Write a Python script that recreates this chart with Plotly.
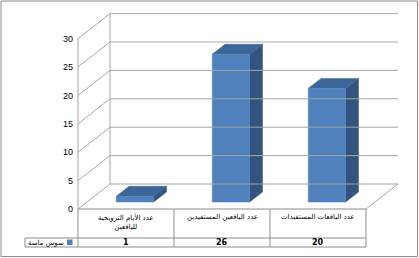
import plotly.graph_objects as go

# ---- data ----
categories = ["عدد الأيام الترويحية<br>لليافعين", "عدد اليافعين المستفيدين", "عدد اليافعات المستفيدات"]
series_name = "سوس ماسة"
values = [1, 26, 20]
y_ticks = [0, 5, 10, 15, 20, 25, 30]

# ---- geometry (pixel mapping helpers) ----
W, H = 419, 258
PX_X = 96.0          # px per category
PX_Y = 5.68          # px per unit
X0PIX, Y0PIX = 78, 209
def xd(p):  # pixel -> x data
    return -0.5 + (p - X0PIX) / PX_X
def yd(p):  # pixel -> y data
    return (Y0PIX - p) / PX_Y

DX = 32 / PX_X       # full depth in x data units
DY = 25 / PX_Y       # full depth in y data units
d0, bd, bw = 0.28, 0.40, 0.39

C_FRONT, C_TOP, C_SIDE = "#4F81BD", "#3D6698", "#32547E"
GRID = "#A6A6A6"
TBL = "#8C8C8C"

fig = go.Figure()

def poly(xs, ys, color):
    fig.add_trace(go.Scatter(x=xs + [xs[0]], y=ys + [ys[0]], mode="lines", fill="toself",
                             fillcolor=color, line=dict(color=color, width=0.5),
                             showlegend=False, hoverinfo="skip"))

# walls / floor lines
shapes = []
def line(x0, y0, x1, y1, color=GRID, w=1):
    shapes.append(dict(type="line", xref="x", yref="y", x0=x0, y0=y0, x1=x1, y1=y1,
                       line=dict(color=color, width=w)))

n = len(categories)
xl, xr = -0.5, n - 0.5
for t in y_ticks:
    line(xl, t, xl + DX, t + DY)                # side wall diagonals
    line(xl + DX, t + DY, xr + DX, t + DY)      # back wall gridlines
line(xl, 0, xl, y_ticks[-1])                    # front axis line
line(xl + DX, DY, xl + DX, y_ticks[-1] + DY)    # back corner line
line(xr, 0, xr + DX, DY)                        # floor right diagonal

# bars (3D faces)
for i, v in enumerate(values):
    x0 = i - bw / 2 + d0 * DX
    x1 = x0 + bw
    y0 = d0 * DY
    y1 = v + d0 * DY
    ox, oy = bd * DX, bd * DY
    poly([x1, x1, x1 + ox, x1 + ox], [y0, y1, y1 + oy, y0 + oy], C_SIDE)
    poly([x0, x1, x1 + ox, x0 + ox], [y1, y1, y1 + oy, y1 + oy], C_TOP)
    poly([x0, x1, x1, x0], [y0, y0, y1, y1], C_FRONT)

# data table
y_row = yd(238)
y_bot = yd(247)
x_leg = xd(25)
line(xl, 0, xr, 0, TBL)
for k in range(n + 1):
    line(xl + k, 0, xl + k, y_bot, TBL)
line(x_leg, y_row, xr, y_row, TBL)
line(x_leg, y_bot, xr, y_bot, TBL)
line(x_leg, y_row, x_leg, y_bot, TBL)

annotations = []
for i, (c, v) in enumerate(zip(categories, values)):
    annotations.append(dict(x=i, y=yd(211), xref="x", yref="y", text=c, showarrow=False,
                            yanchor="top",
                            font=dict(size=7, color="#000", family="DejaVu Sans")))
    annotations.append(dict(x=i, y=(y_row + y_bot) / 2, xref="x", yref="y", text="<b>%d</b>" % v,
                            showarrow=False, font=dict(size=8, color="#000", family="DejaVu Sans")))
annotations.append(dict(x=xd(65.5), y=(y_row + y_bot) / 2, xref="x", yref="y", text=series_name,
                        xanchor="right", showarrow=False,
                        font=dict(size=7, color="#000", family="DejaVu Sans")))
shapes.append(dict(type="rect", xref="x", yref="y", x0=xd(67), x1=xd(72.5),
                   y0=yd(245), y1=yd(239.5), fillcolor=C_FRONT, line=dict(width=0)))

# outer border
shapes.append(dict(type="rect", xref="paper", yref="paper", x0=1 / W, x1=417.5 / W,
                   y0=1.5 / H, y1=1 - 1 / H, line=dict(color="#8C8C8C", width=1)))

fig.update_layout(
    width=W, height=H, margin=dict(l=0, r=0, t=0, b=0),
    paper_bgcolor="white", plot_bgcolor="white",
    xaxis=dict(range=[xd(0), xd(W)], visible=False, fixedrange=True),
    yaxis=dict(range=[yd(H), yd(0)], anchor="free", position=X0PIX / W, side="left",
               tickvals=y_ticks, ticks="", showgrid=False, zeroline=False, showline=False,
               ticklabelstandoff=5, tickfont=dict(size=9, color="#000", family="Liberation Sans")),
    shapes=shapes, annotations=annotations, showlegend=False,
)
fig.write_html("out.html")
